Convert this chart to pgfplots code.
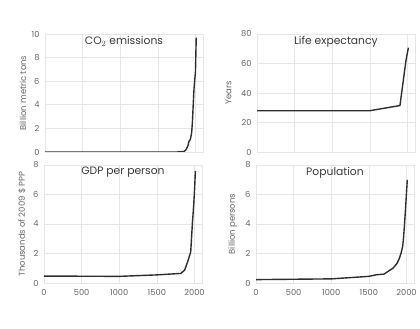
\documentclass[border=0pt]{standalone}
\usepackage{fontspec}
\setmainfont{Poppins}
\usepackage{pgfplots}
\pgfplotsset{compat=1.18}
\definecolor{tickgray}{HTML}{666666}
\definecolor{gridgray}{HTML}{E6E6E6}
\definecolor{linegray}{HTML}{2E2E2E}
\definecolor{titlegray}{HTML}{3A3A3A}
\pgfplotsset{
  panel/.style={
    scale only axis, width=158bp, height=118bp,
    xmin=0, xmax=2100, xtick={0,500,1000,1500,2000},
    grid=major, major grid style={gridgray, line width=0.6pt},
    axis line style={gridgray, line width=0.6pt},
    tick style={draw=none},
    tick label style={font=\fontsize{8.3}{9}\selectfont, text=tickgray},
    xticklabel style={yshift=-3bp},
    yticklabel style={xshift=-2bp},
    /pgf/number format/assume math mode=true,
    /pgf/number format/1000 sep={},
    label style={font=\fontsize{8.5}{10}\selectfont, text=tickgray},
    title style={font=\fontsize{10.8}{12}\selectfont, text=titlegray, at={(axis description cs:0.5,0.96)}, anchor=north},
    ylabel style={at={(axis description cs:-0.14,0.5)}, anchor=center},
    every axis plot post/.append style={draw=linegray, line width=1.4pt, mark=none, line join=round},
  }
}
\begin{document}
\begin{tikzpicture}
\path[use as bounding box] (0,0) rectangle (420bp,329bp);
% CO2
\begin{axis}[panel, at={(45bp,177bp)}, anchor=south west,
  ymin=0, ymax=10, ytick={0,2,4,6,8,10}, xticklabels={},
  title={CO$_2$ emissions}, ylabel={Billion metric tons}]
\addplot coordinates {(0,0) (1750,0) (1850,0.05) (1880,0.25) (1900,0.55) (1910,0.85) (1930,1.05) (1940,1.3) (1950,1.7) (1960,2.6) (1970,4.0) (1980,5.3) (1990,6.1) (2000,6.8) (2010,9.7)};
\end{axis}
% Life expectancy
\begin{axis}[panel, at={(257bp,177bp)}, anchor=south west,
  ymin=0, ymax=80, ytick={0,20,40,60,80}, xticklabels={},
  title={Life expectancy}, ylabel={Years},
  ylabel style={at={(axis description cs:-0.18,0.5)}}]
\addplot coordinates {(0,28) (1500,28) (1900,31.5) (1980,62) (2012,70.7)};
\end{axis}
% GDP
\begin{axis}[panel, at={(44bp,46bp)}, anchor=south west,
  ymin=0, ymax=8, ytick={0,2,4,6,8},
  title={GDP per person}, ylabel={Thousands of 2009 \$ PPP}]
\addplot coordinates {(0,0.47) (1000,0.45) (1500,0.55) (1820,0.65) (1870,0.88) (1913,1.5) (1950,2.1) (1973,4.1) (1990,5.3) (2003,6.5) (2012,7.6)};
\end{axis}
% Population
\begin{axis}[panel, at={(256bp,46bp)}, anchor=south west,
  ymin=0, ymax=8, ytick={0,2,4,6,8},
  title={Population}, ylabel={Billion persons},
  ylabel style={at={(axis description cs:-0.147,0.5)}}]
\addplot coordinates {(0,0.23) (1000,0.28) (1500,0.45) (1600,0.56) (1700,0.6) (1820,1.0) (1870,1.3) (1900,1.6) (1927,2.0) (1950,2.5) (1960,3.0) (1974,4.0) (1987,5.0) (1999,6.0) (2011,7.0)};
\end{axis}
\end{tikzpicture}
\end{document}
